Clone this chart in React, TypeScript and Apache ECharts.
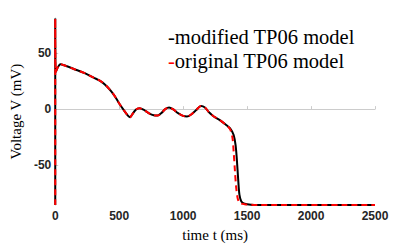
import React, { useEffect, useRef } from "react";
import * as echarts from "echarts";

const modifiedT = [0, 0, 4, 15, 40, 80, 150, 230, 300, 360, 410, 460, 500, 540, 570, 585, 600, 630, 660, 690, 730, 770, 800, 830, 860, 890, 920, 960, 1000, 1030, 1060, 1100, 1140, 1170, 1200, 1240, 1290, 1330, 1370, 1395, 1410, 1420, 1430, 1440, 1455, 1480, 1530, 1600, 2500];
const modifiedV = [-85.3, 80.5, 33, 36, 40, 38.5, 35.5, 32, 28, 24.5, 19.5, 12.5, 5, -1.5, -6, -7.3, -5, -0.5, 0.8, -0.5, -3.5, -5.5, -5.7, -3.5, 0, 1.5, 0, -3.5, -6, -6.5, -5, -1, 2.7, 1.5, -2.5, -6.5, -10, -13.5, -17.5, -23, -32, -45, -62, -76, -82, -84, -85, -85.3, -85.3];

const originalT = [0, 0, 4, 15, 40, 80, 150, 230, 300, 360, 410, 460, 500, 540, 570, 585, 600, 630, 660, 690, 730, 770, 800, 830, 860, 890, 920, 960, 1000, 1030, 1060, 1100, 1140, 1170, 1200, 1240, 1290, 1330, 1365, 1385, 1395, 1405, 1415, 1428, 1445, 1480, 1550, 1600, 2500];
const originalV = [-85.3, 80.5, 33, 36, 40, 38.5, 35.5, 32, 28, 24.5, 19.5, 12.5, 5, -1.5, -6, -7.3, -5, -0.5, 0.8, -0.5, -3.5, -5.5, -5.7, -3.5, 0, 1.5, 0, -3.5, -6, -6.5, -5, -1, 2.7, 1.5, -2.5, -6.5, -10, -13.5, -17.5, -25, -38, -55, -70, -80, -83.5, -84.5, -85.2, -85.3, -85.3];

const xTicks = [0, 500, 1000, 1500, 2000, 2500];
const yTicks = [-50, 0, 50];
const legendLabels = ["modified TP06 model", "original TP06 model"];

const toPairs = (t: number[], v: number[]) => t.map((x, i) => [x, v[i]]);

export default function App() {
  const ref = useRef<HTMLDivElement>(null);
  useEffect(() => {
    if (!ref.current) return;
    const chart = echarts.init(ref.current, null, { renderer: "svg" });
    const serif = "Liberation Serif";
    const tickFont = {
      fontFamily: "Liberation Sans",
      fontWeight: "bold" as const,
      fontSize: 12,
      color: "#262626",
      formatter: (v: number) => String(v),
    };
    const legendText = (dashColor: string) => ({
      fontFamily: serif,
      fontSize: 20.5,
      fontWeight: "normal" as const,
      color: "#000",
      rich: {
        d: { fontFamily: serif, fontSize: 20.5, color: dashColor },
        t: { fontFamily: serif, fontSize: 20.5, color: "#000" },
      },
    });
    chart.setOption({
      animation: false,
      title: [
        { left: 168, top: 26, padding: 0, text: "{d|-}{t|" + legendLabels[0] + "}", textStyle: legendText("#000") },
        { left: 168, top: 50, padding: 0, text: "{d|-}{t|" + legendLabels[1] + "}", textStyle: legendText("#ff0000") },
      ],
      grid: { left: 54, right: 40, top: 18, bottom: 35, containLabel: false },
      xAxis: {
        type: "value",
        min: 0,
        max: 2500,
        interval: 500,
        name: "time t (ms)",
        nameLocation: "middle",
        nameGap: 15,
        nameTextStyle: { fontFamily: serif, fontSize: 15, color: "#000" },
        axisLine: { show: true, lineStyle: { color: "#cccccc", width: 1 } },
        axisTick: { show: true, inside: true, length: 3, lineStyle: { color: "#cccccc" } },
        axisLabel: { ...tickFont, margin: 5, customValues: xTicks } as any,
        splitLine: { show: false },
      },
      yAxis: {
        type: "value",
        min: -85.3,
        max: 81,
        name: "Voltage V (mV)",
        nameLocation: "middle",
        nameRotate: 90,
        nameGap: 24,
        nameTextStyle: { fontFamily: serif, fontSize: 15, color: "#000" },
        axisLine: { show: true, lineStyle: { color: "#cccccc", width: 1 } },
        axisTick: { show: true, inside: true, length: 3, lineStyle: { color: "#cccccc" }, customValues: yTicks } as any,
        axisLabel: { ...tickFont, margin: 4, customValues: yTicks } as any,
        splitLine: { show: false },
      },
      series: [
        {
          type: "line",
          data: toPairs(modifiedT, modifiedV),
          showSymbol: false,
          smooth: 0.3,
          lineStyle: { color: "#000000", width: 2 },
          z: 2,
        },
        {
          type: "line",
          data: toPairs(originalT, originalV),
          showSymbol: false,
          smooth: 0.3,
          lineStyle: { color: "#ff0000", width: 2, type: [6, 4] },
          z: 3,
        },
      ],
    });
    return () => chart.dispose();
  }, []);
  return <div ref={ref} style={{ width: 415, height: 247, position: "absolute", left: 0, top: 0 }} />;
}
